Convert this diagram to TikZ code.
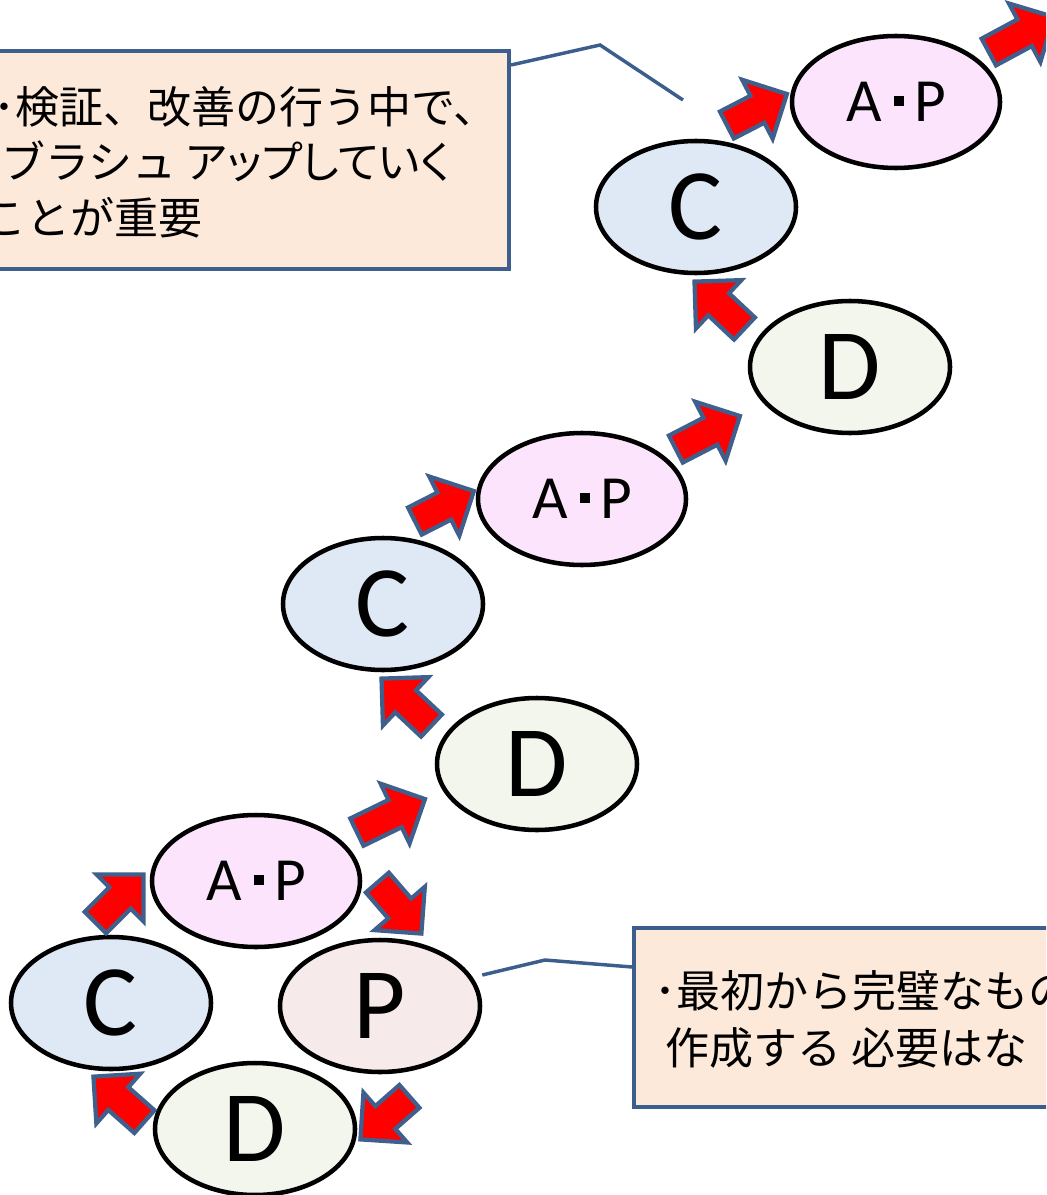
\documentclass[tikz,border=0pt]{standalone}
\usepackage{fontspec}
\setmainfont{Carlito}
\newfontfamily\jp{Noto Sans CJK JP}
\newfontfamily\jpp[RawFeature=+palt]{Noto Sans CJK JP}
\usetikzlibrary{shapes.geometric,shapes.arrows,calc}
\definecolor{cfill}{HTML}{DFE8F5}
\definecolor{apfill}{HTML}{FDE4FD}
\definecolor{dfill}{HTML}{F3F6EC}
\definecolor{pfill}{HTML}{F6EBEA}
\definecolor{callfill}{HTML}{FDE9D9}
\definecolor{callline}{HTML}{3B5E8C}
\definecolor{arrline}{HTML}{3F5F8C}
\newcommand\apdot{\hspace{0.2em}\rule[0.25em]{0.165em}{0.165em}\hspace{0.17em}}
\newcommand\blockarrow[2]{%
  \path let \p1=($(#2)-(#1)$), \n1={veclen(\x1,\y1)} in
    (#1) -- (#2) node[pos=0, sloped, allow upside down, barrow, minimum height={\n1*1pt}] {};}
\begin{document}
\begin{tikzpicture}[x=0.75pt, y=-0.75pt,
  ell/.style={ellipse, draw=black, line width=3.4pt, inner sep=0pt,
    minimum width=150pt, minimum height=99pt, font=\fontsize{76}{76}\selectfont},
  cell/.style={ell, fill=cfill},
  dell/.style={ell, fill=dfill},
  pell/.style={ell, fill=pfill},
  apell/.style={ell, fill=apfill, minimum width=156pt, font=\fontsize{46}{46}\selectfont},
  barrow/.style={single arrow, draw=arrline, fill=red, line width=3.2pt,
    inner xsep=0pt, inner ysep=9.75pt, single arrow head extend=13.5pt,
    single arrow tip angle=90, anchor=tail},
  callout/.style={rectangle, draw=callline, fill=callfill, line width=3pt, inner sep=0pt},
  leader/.style={draw=callline, line width=2.6pt},
  jptext/.style={font=\jp\fontsize{33}{33}\selectfont, anchor=base west, inner sep=0pt}]
\useasboundingbox (0,0) rectangle (1046,1195);
\clip (0,0) rectangle (1046,1195);

% callout boxes
\node[callout, minimum width=396.75pt, minimum height=163.5pt] (B1) at (244.5,160) {};
\node[jptext] (t1) at (-7,124) {･検証、改善の行う中で、};
\node[jptext] (t2) at (1,179) {ブラシュ {\jpp アップしていく}};
\node[jptext] (t3) at (-18,234) {ことが重要};

\node[callout, minimum width=349.5pt, minimum height=134.25pt] (B2) at (867,1017.5) {};
\node[jptext] (t4) at (654,1007) {･最初から完璧なもの};
\node[jptext] (t5) at (665,1064) {作成する 必要はな};

% ellipses
\node[cell] (C1) at (111,1003) {C};
\node[pell] (P1) at (380,1006) {P};
\node[dell] (D1) at (255,1129) {D};
\node[apell] (AP1) at (256,881) {A\apdot P};
\node[dell] (D2) at (537,764) {D};
\node[cell] (C2) at (383,604) {C};
\node[apell] (AP2) at (582,499) {A\apdot P};
\node[dell] (D3) at (850,367) {D};
\node[cell] (C3) at (696,207) {C};
\node[apell] (AP3) at (896,102) {A\apdot P};

% leader lines
\coordinate (k1) at (600,45);
\coordinate (k1e) at (683,100);
\draw[leader] (B1.east |- 0,65) -- (k1) -- (k1e);
\coordinate (k2) at (545,960);
\draw[leader] (P1.east |- 0,975) -- (k2) -- (B2.west |- 0,967);

% block arrows
\coordinate (a1t) at (94,924);   \coordinate (a1h) at (142,876);
\coordinate (a2t) at (376,881);  \coordinate (a2h) at (420,932);
\coordinate (a3t) at (411,1095); \coordinate (a3h) at (362,1138);
\coordinate (a4t) at (146,1123); \coordinate (a4h) at (95,1078);
\coordinate (a5t) at (355,833);  \coordinate (a5h) at (423,800);
\coordinate (a6t) at (433,727);  \coordinate (a6h) at (383,680);
\coordinate (a7t) at (413,522);  \coordinate (a7h) at (472,492);
\coordinate (a8t) at (674,450);  \coordinate (a8h) at (738,417);
\coordinate (a9t) at (746,330);  \coordinate (a9h) at (696,283);
\coordinate (a10t) at (725,126); \coordinate (a10h) at (785,95);
\coordinate (a11t) at (987,53);  \coordinate (a11h) at (1052,18);
\blockarrow{a1t}{a1h}
\blockarrow{a2t}{a2h}
\blockarrow{a3t}{a3h}
\blockarrow{a4t}{a4h}
\blockarrow{a5t}{a5h}
\blockarrow{a6t}{a6h}
\blockarrow{a7t}{a7h}
\blockarrow{a8t}{a8h}
\blockarrow{a9t}{a9h}
\blockarrow{a10t}{a10h}
\blockarrow{a11t}{a11h}
\end{tikzpicture}
\end{document}
